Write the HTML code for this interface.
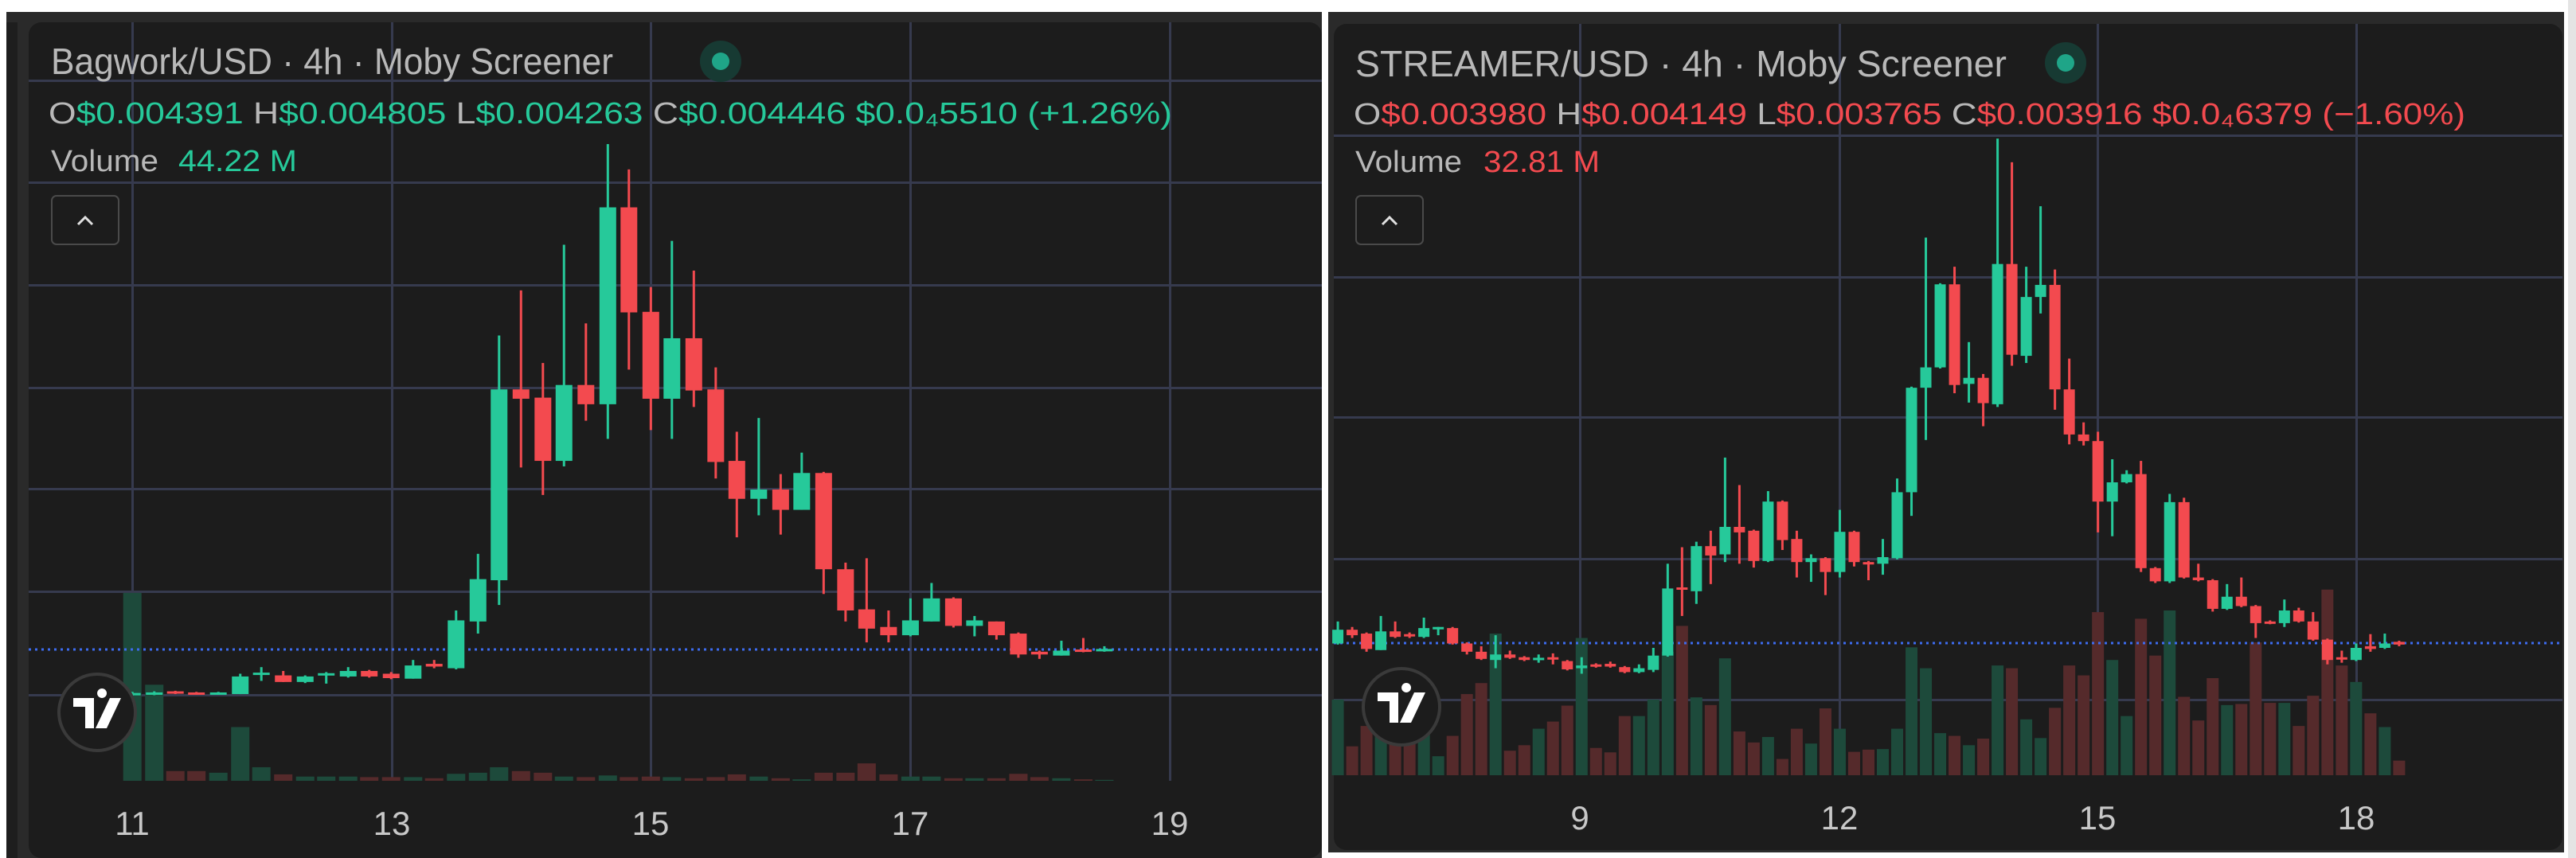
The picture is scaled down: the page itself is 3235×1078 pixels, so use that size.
<!DOCTYPE html>
<html><head><meta charset="utf-8"><style>
html,body{margin:0;padding:0;background:#fff;width:3235px;height:1078px;overflow:hidden}
svg{display:block}
</style></head><body>
<svg id="s" width="3235" height="1078" xmlns="http://www.w3.org/2000/svg" font-family="Liberation Sans, sans-serif">
<rect width="3235" height="1078" fill="#ffffff"/>
<rect x="3225" y="0" width="10" height="1078" fill="#e4e4e4"/>
<rect x="8" y="15" width="1652" height="1063" fill="#2a2a2a"/>
<rect x="8" y="28" width="14" height="1050" fill="#1e1e1e"/>
<rect x="36" y="28" width="1624" height="1050" rx="16" fill="#1c1c1c"/>
<rect x="1668" y="15" width="1552" height="1056" fill="#2a2a2a"/>
<rect x="1675" y="30" width="1543" height="1038" rx="16" fill="#1c1c1c"/>
<g id="L"></g><g id="R"></g>
<text x="64" y="93" font-size="46" fill="#b8b8b8" textLength="706" lengthAdjust="spacingAndGlyphs">Bagwork/USD · 4h · Moby Screener</text>
<circle cx="905" cy="77" r="26" fill="#173a33"/><circle cx="905" cy="77" r="11" fill="#1fa588"/>
<text x="61" y="155" font-size="38" fill="#b8b8b8" textLength="1411" lengthAdjust="spacingAndGlyphs">O<tspan fill="#26c99a">$0.004391 </tspan>H<tspan fill="#26c99a">$0.004805 </tspan>L<tspan fill="#26c99a">$0.004263 </tspan>C<tspan fill="#26c99a">$0.004446 $0.0₄5510 (+1.26%)</tspan></text>
<text x="64" y="215" font-size="38" fill="#b8b8b8" textLength="135" lengthAdjust="spacingAndGlyphs">Volume</text>
<text x="224" y="215" font-size="38" fill="#26c99a" textLength="149" lengthAdjust="spacingAndGlyphs">44.22 M</text>
<rect x="65" y="246" width="84" height="61" rx="6" fill="#1c1c1c" stroke="#4a4a4a" stroke-width="2"/>
<path d="M98 282 L107 273 L116 282" fill="none" stroke="#e0e0e0" stroke-width="3"/>
<g font-size="42" fill="#c8c8c8" text-anchor="middle">
<text x="166" y="1049">11</text><text x="492" y="1049">13</text><text x="817" y="1049">15</text><text x="1143" y="1049">17</text><text x="1469" y="1049">19</text></g>
<text x="1702" y="96" font-size="46" fill="#b8b8b8" textLength="818" lengthAdjust="spacingAndGlyphs">STREAMER/USD · 4h · Moby Screener</text>
<circle cx="2594" cy="79" r="26" fill="#173a33"/><circle cx="2594" cy="79" r="11" fill="#1fa588"/>
<text x="1700" y="156" font-size="38" fill="#b8b8b8" textLength="1396" lengthAdjust="spacingAndGlyphs">O<tspan fill="#f34a4f">$0.003980 </tspan>H<tspan fill="#f34a4f">$0.004149 </tspan>L<tspan fill="#f34a4f">$0.003765 </tspan>C<tspan fill="#f34a4f">$0.003916 $0.0₄6379 (−1.60%)</tspan></text>
<text x="1702" y="216" font-size="38" fill="#b8b8b8" textLength="134" lengthAdjust="spacingAndGlyphs">Volume</text>
<text x="1863" y="216" font-size="38" fill="#f34a4f" textLength="146" lengthAdjust="spacingAndGlyphs">32.81 M</text>
<rect x="1703" y="246" width="84" height="61" rx="6" fill="#1c1c1c" stroke="#4a4a4a" stroke-width="2"/>
<path d="M1736 282 L1745 273 L1754 282" fill="none" stroke="#e0e0e0" stroke-width="3"/>
<g font-size="42" fill="#c8c8c8" text-anchor="middle">
<text x="1984" y="1042">9</text><text x="2310" y="1042">12</text><text x="2634" y="1042">15</text><text x="2959" y="1042">18</text></g>
</svg>
<script>
var NS="http://www.w3.org/2000/svg";
function el(p,t,a){var e=document.createElementNS(NS,t);for(var k in a)e.setAttribute(k,a[k]);p.appendChild(e);return e;}
var G="#26c99a",Rd="#f34a4f",VG="#1d4a3b",VR="#552a2b",GR="#363a4e";
function tvlogo(g,cx,cy){el(g,"circle",{cx:cx,cy:cy,r:48,fill:"#1c1c1c",stroke:"#3a3a3a","stroke-width":4});
el(g,"path",{d:"M"+(cx-30)+" "+(cy-18)+"h26v38h-11v-27h-15z M"+(cx+6)+" "+(cy-18)+"a6 6 0 1 1 0.1 0z M"+(cx+16)+" "+(cy-18)+"h14l-18 38h-14z",fill:"#ffffff"});}
(function(){
var g=document.getElementById("L"),sx=1.0587,sy=0.691;
[102,230,359,488,615,744,874].forEach(function(y){el(g,"rect",{x:36,y:y-2,width:1624,height:3,fill:GR});});
[166,492,817,1143,1469].forEach(function(x){el(g,"rect",{x:x-1,y:28,width:3,height:953,fill:GR});});
var c=[[157,'g',1260,1263,1258,1265],[183,'g',1259,1262,1257,1264],[208,'r',1257,1260,1256,1262],[233,'r',1259,1262,1258,1263],[259,'g',1259,1262,1258,1263],[285,'g',1230,1262,1225,1262],[310,'g',1223,1227,1213,1238],[336,'r',1228,1240,1220,1240],[362,'g',1230,1240,1228,1242],[387,'g',1224,1227,1222,1243],[413,'g',1220,1230,1213,1232],[438,'r',1220,1230,1218,1232],[464,'r',1225,1233,1222,1235],[490,'g',1210,1234,1200,1234],[515,'r',1207,1212,1200,1215],[541,'g',1128,1215,1110,1217],[567,'g',1053,1130,1007,1152],[592,'g',708,1055,610,1100],[618,'r',708,725,528,850],[644,'r',723,838,660,900],[669,'g',700,838,445,848],[695,'r',700,735,588,765],[721,'g',377,735,262,798],[746,'r',377,568,308,672],[772,'r',567,725,522,782],[797,'g',615,725,438,798],[823,'r',615,710,492,740],[849,'r',708,840,668,870],[874,'r',838,907,785,977],[900,'g',890,907,760,937],[926,'r',890,927,862,972],[951,'g',860,927,823,927],[977,'r',860,1035,858,1080],[1003,'r',1035,1110,1023,1130],[1028,'r',1108,1143,1015,1168],[1054,'r',1140,1155,1110,1168],[1080,'g',1128,1155,1088,1157],[1105,'g',1088,1130,1060,1130],[1131,'r',1088,1138,1086,1141],[1156,'g',1128,1138,1120,1157],[1182,'r',1130,1155,1130,1163],[1208,'r',1152,1190,1150,1196],[1233,'r',1185,1190,1183,1198],[1259,'g',1183,1192,1165,1192],[1285,'r',1181,1185,1160,1186],[1310,'g',1180,1183,1175,1185]];
var v=[1078,1245,1402,1402,1405,1322,1395,1408,1412,1412,1412,1413,1413,1413,1415,1407,1405,1395,1402,1405,1412,1413,1410,1413,1412,1413,1415,1413,1408,1412,1415,1417,1405,1405,1388,1408,1412,1412,1415,1415,1415,1407,1413,1415,1417,1418];
var base=981;
c.forEach(function(d,i){var x=d[0]*sx,t=v[i]*sy;el(g,"rect",{x:x-11.5,y:t,width:23,height:Math.max(1,base-t),fill:d[1]=='g'?VG:VR});});
el(g,"line",{x1:36,y1:816,x2:1660,y2:816,stroke:"#3d6cf0","stroke-width":3,"stroke-dasharray":"3 5"});
c.forEach(function(d){var x=d[0]*sx,col=d[1]=='g'?G:Rd;
el(g,"rect",{x:x-1.5,y:d[4]*sy,width:3,height:(d[5]-d[4])*sy,fill:col});
var h=Math.max(3,(d[3]-d[2])*sy);el(g,"rect",{x:x-10.5,y:d[2]*sy,width:21,height:h,fill:col});});
tvlogo(g,122,895);
})();
(function(){
var g=document.getElementById("R"),sy=0.691;
function X(z){return 1660+z*1.0045;}
[171,349,525,703,880].forEach(function(y){el(g,"rect",{x:1675,y:y-2,width:1543,height:3,fill:GR});});
[1984,2310,2634,2959].forEach(function(x){el(g,"rect",{x:x-1,y:30,width:3,height:944,fill:GR});});
var c=[['g',1145,1170,1130,1172],['r',1145,1155,1140,1160],['r',1152,1180,1150,1185],['g',1148,1182,1120,1182],['r',1148,1158,1130,1160],['r',1153,1157,1150,1160],['g',1142,1158,1123,1160],['g',1140,1143,1140,1155],['r',1142,1170,1140,1172],['r',1170,1185,1168,1190],['r',1185,1198,1175,1200],['g',1190,1200,1155,1215],['r',1190,1196,1183,1198],['r',1195,1200,1193,1202],['g',1196,1199,1190,1205],['r',1195,1198,1188,1208],['r',1202,1217,1200,1219],['g',1210,1215,1195,1225],['r',1208,1212,1206,1214],['r',1207,1212,1203,1214],['r',1213,1222,1211,1224],['g',1215,1222,1208,1224],['g',1192,1218,1178,1222],['g',1070,1192,1025,1194],['r',1068,1072,995,1120],['g',993,1075,985,1098],['r',993,1010,965,1062],['g',958,1008,832,1022],['r',958,968,882,1025],['r',965,1020,963,1032],['g',912,1020,893,1022],['r',912,982,910,1000],['r',980,1022,965,1050],['g',1015,1022,1008,1058],['r',1015,1040,1013,1082],['g',967,1040,927,1050],['r',967,1022,965,1030],['r',1022,1025,1020,1055],['g',1013,1025,980,1045],['g',895,1015,870,1017],['g',705,895,703,938],['g',668,705,432,800],['g',517,668,515,670],['r',517,700,485,715],['g',687,698,622,732],['r',687,733,680,775],['g',480,735,252,740],['r',480,645,295,665],['g',540,647,485,660],['g',518,540,375,570],['r',518,708,490,745],['r',708,790,652,808],['r',790,802,768,810],['r',802,912,785,968],['g',877,912,835,975],['g',862,877,855,879],['r',862,1033,838,1040],['r',1033,1057,1031,1060],['g',913,1057,898,1060],['r',913,1050,905,1052],['r',1050,1055,1025,1057],['r',1055,1107,1053,1112],['g',1085,1107,1062,1109],['r',1085,1102,1050,1104],['r',1102,1133,1100,1160],['r',1130,1133,1128,1135],['g',1110,1133,1090,1140],['r',1110,1130,1105,1132],['r',1130,1163,1113,1165],['r',1163,1200,1161,1208],['r',1195,1198,1183,1205],['g',1178,1200,1170,1202],['r',1175,1180,1153,1185],['g',1170,1178,1152,1180],['r',1167,1172,1165,1175]];
var v=[1272,1357,1320,1272,1338,1352,1325,1375,1338,1262,1242,1152,1365,1355,1325,1312,1283,1160,1360,1368,1302,1302,1272,1185,1138,1268,1282,1197,1330,1350,1340,1380,1325,1352,1288,1325,1367,1363,1362,1325,1177,1215,1333,1338,1355,1343,1210,1215,1308,1342,1287,1210,1228,1113,1200,1302,1125,1192,1110,1267,1310,1233,1282,1280,1168,1278,1278,1320,1265,1072,1210,1240,1297,1322,1383];
var base=974;
c.forEach(function(d,i){var x=X(20+17.93*i),t=v[i]*sy;el(g,"rect",{x:x-7.5,y:t,width:15,height:base-t,fill:d[0]=='g'?VG:VR});});
el(g,"line",{x1:1675,y1:808,x2:3218,y2:808,stroke:"#3d6cf0","stroke-width":3,"stroke-dasharray":"3 5"});
c.forEach(function(d,i){var x=X(20+17.93*i),col=d[0]=='g'?G:Rd;
el(g,"rect",{x:x-1.5,y:d[3]*sy,width:3,height:(d[4]-d[3])*sy,fill:col});
el(g,"rect",{x:x-7,y:d[1]*sy,width:14,height:Math.max(3,(d[2]-d[1])*sy),fill:col});});
tvlogo(g,1760,888);
})();
</script>
</body></html>
